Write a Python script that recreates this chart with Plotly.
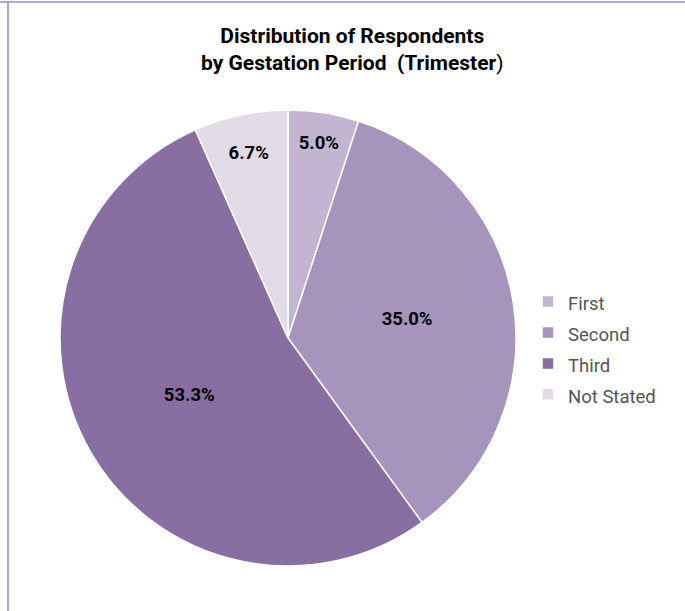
import plotly.graph_objects as go

# Respondents by trimester of pregnancy
categories = ["First", "Second", "Third", "Not Stated"]
counts = [3, 21, 32, 4]
colors = ["#c3b5d1", "#a694bd", "#896ea1", "#e1dbe8"]

W, H = 685, 611

# legend entries are drawn a bit smaller than the legend font so the rows sit further apart
legend_labels = [f'<span style="font-size:18.5px">{c}</span>' for c in categories]

fig = go.Figure(
    go.Pie(
        labels=legend_labels,
        values=counts,
        customdata=categories,
        sort=False,
        direction="clockwise",
        rotation=0,
        marker=dict(colors=colors, line=dict(color="white", width=1.5)),
        texttemplate="<b>%{percent:.1%}</b>",
        textposition="inside",
        insidetextorientation="horizontal",
        textfont=dict(family="Roboto", size=18.5, color="black"),
        domain=dict(x=[60 / W, 516 / W], y=[(H - 566) / H, (H - 110) / H]),
        hovertemplate="%{customdata}: %{percent:.1%}<extra></extra>",
    )
)

fig.update_layout(
    width=W,
    height=H,
    margin=dict(l=0, r=0, t=0, b=0),
    paper_bgcolor="white",
    plot_bgcolor="white",
    font=dict(family="Roboto", color="#555555"),
    annotations=[
        dict(
            text="<b>Distribution of Respondents</b><br><b>by Gestation Period  (Trimester</b>)",
            x=353 / W,
            y=(H - 49) / H,
            xref="paper",
            yref="paper",
            xanchor="center",
            yanchor="middle",
            showarrow=False,
            font=dict(family="Roboto", size=21, color="black"),
        )
    ],
    legend=dict(
        x=528 / W,
        y=(H - 348) / H,
        xanchor="left",
        yanchor="middle",
        font=dict(family="Roboto", size=21.5, color="#555555"),
        itemwidth=30,
        bgcolor="rgba(0,0,0,0)",
    ),
    shapes=[
        dict(type="line", xref="paper", yref="paper", x0=0, x1=1,
             y0=(H - 2) / H, y1=(H - 2) / H,
             line=dict(color="#9d84c9", width=1.5)),
        dict(type="line", xref="paper", yref="paper", x0=8 / W, x1=8 / W,
             y0=0, y1=(H - 2) / H,
             line=dict(color="#9d84c9", width=1.5)),
    ],
)

fig.write_html("out.html")
